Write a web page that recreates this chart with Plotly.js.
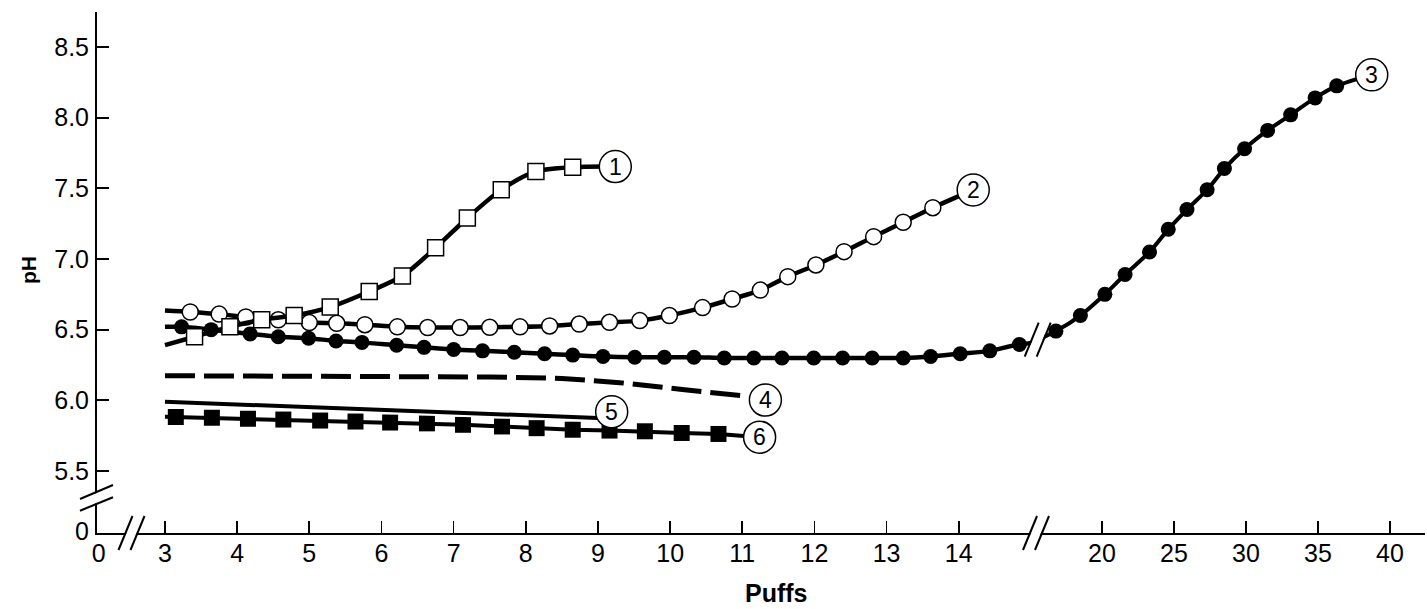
<!DOCTYPE html>
<html>
<head>
<meta charset="utf-8">
<script src="https://cdn.plot.ly/plotly-3.0.1.min.js"></script>
<style>
  html, body { margin: 0; padding: 0; background: #fff; }
  #chart { width: 1427px; height: 609px; }
</style>
</head>
<body>
<div id="chart"></div>
<script>
// ---------------- data ----------------
// Series 1: open squares (first entry = start of the curve at x=3, no marker)
const s1X = [3.0, 3.41, 3.90, 4.34, 4.79, 5.29, 5.83, 6.29, 6.75, 7.19, 7.66, 8.14, 8.65];
const s1Y = [6.39, 6.45, 6.52, 6.57, 6.60, 6.66, 6.77, 6.88, 7.08, 7.29, 7.49, 7.62, 7.65];
// Series 2: open circles
const s2X = [3.0, 3.35, 3.75, 4.12, 4.57, 5.00, 5.38, 5.77, 6.22, 6.64, 7.09, 7.50, 7.92, 8.33,
             8.74, 9.16, 9.58, 9.99, 10.45, 10.86, 11.25, 11.63, 12.02, 12.41, 12.82, 13.23, 13.64];
const s2Y = [6.635, 6.625, 6.61, 6.59, 6.57, 6.55, 6.545, 6.535, 6.52, 6.515, 6.515, 6.517, 6.52, 6.526,
             6.54, 6.552, 6.564, 6.60, 6.656, 6.717, 6.78, 6.875, 6.958, 7.052, 7.158, 7.26, 7.363];
// Series 3: filled circles (spans both x segments)
const s3X = [3.0, 3.23, 3.64, 4.18, 4.57, 4.99, 5.37, 5.73, 6.21, 6.59, 7.00, 7.40, 7.84, 8.26, 8.65,
             9.07, 9.51, 9.92, 10.33, 10.75, 11.16, 11.55, 11.99, 12.39, 12.80, 13.23, 13.61, 14.02,
             14.43, 14.84, 16.8, 18.5, 20.2, 21.6, 23.3, 24.6, 25.9, 27.3, 28.5, 29.9, 31.5, 33.1, 34.8, 36.3];
const s3Y = [6.52, 6.52, 6.50, 6.47, 6.45, 6.44, 6.42, 6.41, 6.39, 6.375, 6.36, 6.35, 6.34, 6.33, 6.32,
             6.31, 6.305, 6.305, 6.305, 6.30, 6.30, 6.30, 6.30, 6.30, 6.30, 6.30, 6.31, 6.33,
             6.35, 6.395, 6.49, 6.60, 6.75, 6.89, 7.05, 7.21, 7.35, 7.49, 7.64, 7.78, 7.91, 8.02, 8.14, 8.225];
// Series 4: dashed line
const s4X = [3.0, 6.0, 7.5, 8.5, 9.3, 10.2, 10.7, 11.05];
const s4Y = [6.174, 6.170, 6.165, 6.155, 6.125, 6.075, 6.05, 6.03];
// Series 5: solid line
const s5X = [3.0, 6.0, 9.0];
const s5Y = [5.99, 5.933, 5.875];
// Series 6: filled squares
const s6X = [3.0, 3.15, 3.65, 4.15, 4.64, 5.15, 5.64, 6.12, 6.63, 7.13, 7.67, 8.15, 8.65, 9.16, 9.65, 10.16, 10.67];
const s6Y = [5.884, 5.882, 5.877, 5.869, 5.864, 5.857, 5.850, 5.843, 5.837, 5.827, 5.815, 5.803, 5.792, 5.786, 5.781, 5.769, 5.762];

// Circled curve labels
const labelText = ['1', '2', '3', '4', '5', '6'];
const labelX = [9.24, 14.2, 38.73, 11.32, 9.19, 11.24];
const labelY = [7.654, 7.489, 8.303, 6.002, 5.92, 5.739];
const labelAxis = ['x', 'x', 'x2', 'x', 'x', 'x'];

// Axis ticks
const xTicksA = [3, 4, 5, 6, 7, 8, 9, 10, 11, 12, 13, 14];
const xTicksB = [20, 25, 30, 35, 40];
const yTicks = [5.5, 6.0, 6.5, 7.0, 7.5, 8.0, 8.5];
const xTitle = 'Puffs';
const yTitle = 'pH';

// ---------------- drawing ----------------
const FONT = 'Liberation Sans, Arial, Helvetica, sans-serif';
const BLACK = '#000';
const BREAK_X = 15.2; // values above this go to the right-hand x segment

const traces = [];
function lineTrace(x, y, xaxis, opts) {
  return Object.assign({type: 'scatter', mode: 'lines', x: x, y: y, xaxis: xaxis, yaxis: 'y',
    hoverinfo: 'skip', showlegend: false, line: {color: BLACK, width: 4.5}}, opts || {});
}
function markerTrace(x, y, xaxis, marker) {
  return {type: 'scatter', mode: 'markers', x: x, y: y, xaxis: xaxis, yaxis: 'y',
    hoverinfo: 'skip', showlegend: false, marker: marker};
}

// empty trace so the small "0" axis segments get their own subplot
traces.push({type: 'scatter', mode: 'markers', x: [], y: [], xaxis: 'x3', yaxis: 'y2', hoverinfo: 'skip', showlegend: false});

// series 6
traces.push(lineTrace(s6X.concat([labelX[5]]), s6Y.concat([labelY[5]]), 'x', {line: {color: BLACK, width: 4}}));
traces.push(markerTrace(s6X.slice(1), s6Y.slice(1), 'x', {symbol: 'square', size: 16, color: BLACK}));
// series 5 (white halo + black line)
traces.push(lineTrace(s5X, s5Y, 'x', {line: {color: '#fff', width: 8}}));
traces.push(lineTrace(s5X, s5Y, 'x', {line: {color: BLACK, width: 4}}));
// series 4
traces.push(lineTrace(s4X, s4Y, 'x', {line: {color: BLACK, width: 5, dash: '30px,9px'}}));
// series 3 split over the axis break
const s3a = [], s3b = [];
s3X.forEach((v, i) => { (v < BREAK_X ? s3a : s3b).push(i); });
const lastA = s3a[s3a.length - 1], firstB = s3b[0];
const s3aIdx = s3a.concat([firstB]);
const s3bIdx = [lastA].concat(s3b);
traces.push(lineTrace(s3aIdx.map(i => s3X[i]), s3aIdx.map(i => s3Y[i]), 'x', {line: {color: BLACK, width: 4.5, shape: 'spline', smoothing: 0.8}}));
traces.push(lineTrace(s3bIdx.map(i => s3X[i]).concat([labelX[2]]), s3bIdx.map(i => s3Y[i]).concat([labelY[2]]), 'x2', {line: {color: BLACK, width: 4, shape: 'spline', smoothing: 0.8}}));
traces.push(markerTrace(s3a.slice(1).map(i => s3X[i]), s3a.slice(1).map(i => s3Y[i]), 'x', {symbol: 'circle', size: 15, color: BLACK}));
traces.push(markerTrace(s3b.map(i => s3X[i]), s3b.map(i => s3Y[i]), 'x2', {symbol: 'circle', size: 15, color: BLACK}));
// series 2
traces.push(lineTrace(s2X.concat([labelX[1]]), s2Y.concat([labelY[1]]), 'x', {line: {color: BLACK, width: 4.5, shape: 'spline', smoothing: 0.8}}));
traces.push(markerTrace(s2X.slice(1), s2Y.slice(1), 'x', {symbol: 'circle', size: 16, color: '#fff', line: {color: BLACK, width: 1.5}}));
// series 1
traces.push(lineTrace(s1X.concat([labelX[0]]), s1Y.concat([labelY[0]]), 'x', {line: {color: BLACK, width: 4.5, shape: 'spline', smoothing: 0.8}}));
traces.push(markerTrace(s1X.slice(1), s1Y.slice(1), 'x', {symbol: 'square', size: 16, color: '#fff', line: {color: BLACK, width: 1.5}}));

// ---------- layout geometry ----------
const ML = 97, MR = 2, MT = 12, MB = 76;
const W = 1427 - ML - MR, H = 609 - MT - MB;
const px2fx = p => (p - ML) / W;
const px2fy = p => (609 - MB - p) / H;
const xSeg1End = px2fx(131.5), xSeg2End = px2fx(1036);
const yBreak = px2fy(498);

const tickFont = {family: FONT, size: 25, color: BLACK};
const axisCommon = {
  showgrid: false, zeroline: false, showline: true, linecolor: BLACK, linewidth: 2,
  ticks: 'inside', ticklen: 12, tickwidth: 1.7, tickcolor: BLACK, tickfont: tickFont,
  fixedrange: true, automargin: false
};

// axis break decorations (pixel geometry around an anchor)
const shapes = [];
function breakMark(xref, xa, yref, ya, poly, l1, l2) {
  const base = {xref: xref, yref: yref, xsizemode: 'pixel', ysizemode: 'pixel',
                xanchor: xa, yanchor: ya, layer: 'above'};
  const toPath = pts => 'M' + pts.map(p => p[0] + ',' + p[1]).join('L');
  shapes.push(Object.assign({type: 'path', path: toPath(poly) + 'Z', fillcolor: '#fff', line: {width: 0}}, base));
  shapes.push(Object.assign({type: 'path', path: toPath(l1), line: {color: BLACK, width: 2}}, base));
  shapes.push(Object.assign({type: 'path', path: toPath(l2), line: {color: BLACK, width: 2}}, base));
}
const xbA = [[-13, -17], [1, 17]], xbB = [[-1, -17], [13, 17]];
const xbPoly = [[-12, -17], [2, 17], [12, 17], [-2, -17]];
breakMark('paper', xSeg1End, 'paper', 0, xbPoly, xbA, xbB);
breakMark('paper', xSeg2End, 'paper', 0, xbPoly, xbA, xbB);
breakMark('paper', px2fx(1037.7), 'y', 6.43, xbPoly, xbA, xbB);
breakMark('paper', 0, 'paper', yBreak,
  [[-17, -2], [16, 12], [16, 1.7], [-17, -11.7]],
  [[-17, -1], [16, 13]], [[-17, -12.7], [16, 0.7]]);

// circled labels
const annotations = [];
labelText.forEach((t, i) => {
  shapes.push({type: 'circle', xref: labelAxis[i], yref: 'y', xsizemode: 'pixel', ysizemode: 'pixel',
    xanchor: labelX[i], yanchor: labelY[i], x0: -16, x1: 16, y0: -16, y1: 16,
    fillcolor: '#fff', line: {color: BLACK, width: 1.5}, layer: 'above'});
  annotations.push({xref: labelAxis[i], yref: 'y', x: labelX[i], y: labelY[i], text: t,
    showarrow: false, xanchor: 'center', yanchor: 'middle',
    font: {family: FONT, size: 23, color: BLACK}});
});
annotations.push({xref: 'paper', yref: 'paper', x: px2fx(776), y: px2fy(593), text: '<b>' + xTitle + '</b>',
  showarrow: false, xanchor: 'center', yanchor: 'middle', font: {family: FONT, size: 25, color: BLACK}});
annotations.push({xref: 'paper', yref: 'paper', x: px2fx(28), y: px2fy(270), text: '<b>' + yTitle + '</b>',
  showarrow: false, textangle: -90, xanchor: 'center', yanchor: 'middle', font: {family: FONT, size: 21, color: BLACK}});

const layout = {
  width: 1427, height: 609,
  margin: {l: ML, r: MR, t: MT, b: MB, pad: 0},
  paper_bgcolor: '#fff', plot_bgcolor: 'rgba(0,0,0,0)',
  showlegend: false,
  font: {family: FONT, color: BLACK},
  xaxis: Object.assign({}, axisCommon, {anchor: 'y2', domain: [xSeg1End, xSeg2End], range: [2.536, 15.07],
    tickmode: 'array', tickvals: xTicksA, ticktext: xTicksA.map(String), ticklabelstandoff: -3}),
  xaxis2: Object.assign({}, axisCommon, {anchor: 'y2', domain: [xSeg2End, 1], range: [15.417, 42.43],
    tickmode: 'array', tickvals: xTicksB, ticktext: xTicksB.map(String), ticklabelstandoff: -3}),
  xaxis3: Object.assign({}, axisCommon, {anchor: 'y2', domain: [0, xSeg1End], range: [-0.05, 1], ticks: '',
    tickmode: 'array', tickvals: [0], ticktext: ['0'], ticklabelstandoff: -3}),
  yaxis: Object.assign({}, axisCommon, {anchor: 'x3', domain: [yBreak, 1], range: [5.3089, 8.7477],
    tickmode: 'array', tickvals: yTicks, ticktext: yTicks.map(v => v.toFixed(1)), ticklabelstandoff: 1}),
  yaxis2: Object.assign({}, axisCommon, {anchor: 'x3', domain: [0, yBreak], range: [-0.05, 1], ticks: '',
    tickmode: 'array', tickvals: [0], ticktext: ['0'], ticklabelstandoff: 1}),
  shapes: shapes,
  annotations: annotations
};

Plotly.newPlot('chart', traces, layout, {displayModeBar: false, staticPlot: true});
</script>
</body>
</html>
